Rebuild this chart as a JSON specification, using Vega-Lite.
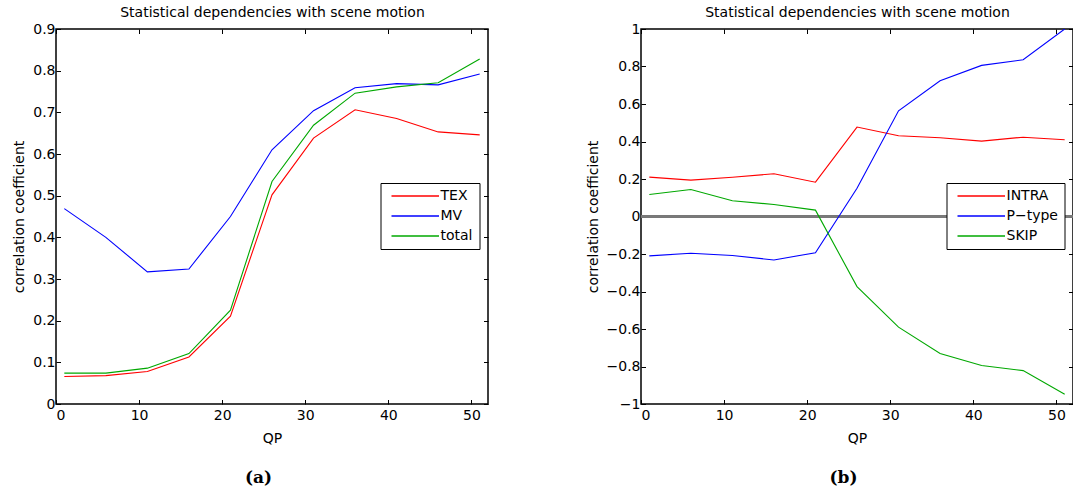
{
  "$schema": "https://vega.github.io/schema/vega-lite/v6.json",
  "padding": {"left": 11, "top": 4, "right": 0, "bottom": 0},
  "background": "white",
  "spacing": 95,
  "config": {
    "font": "DejaVu Sans",
    "view": {"stroke": "black", "strokeWidth": 1.5},
    "axis": {
      "domain": false,
      "grid": false,
      "ticks": true,
      "tickColor": "black",
      "tickWidth": 1,
      "tickSize": -4.5,
      "labelPadding": 8.5,
      "labelFont": "DejaVu Sans",
      "labelFontSize": 14,
      "labelColor": "black",
      "titleFont": "DejaVu Sans",
      "titleFontSize": 14,
      "titleFontWeight": "normal",
      "titleColor": "black"
    },
    "axisLeft": {"labelPadding": 5.5},
    "legend": {
      "orient": "none",
      "title": null,
      "symbolType": "M-0.4,0H9.1",
      "symbolSize": 100,
      "symbolStrokeWidth": 1.3,
      "labelFont": "DejaVu Sans",
      "labelFontSize": 14,
      "labelColor": "black",
      "labelOffset": 40,
      "strokeColor": "black",
      "fillColor": "white",
      "padding": 6,
      "rowPadding": 6
    },
    "title": {
      "orient": "bottom",
      "frame": "group",
      "anchor": "middle",
      "font": "DejaVu Serif",
      "fontWeight": "bold",
      "fontSize": 17,
      "color": "black",
      "dx": -13.5,
      "offset": 25
    }
  },
  "datasets": {
    "motionA": [
      {"QP": 1, "series": "TEX", "r": 0.066},
      {"QP": 6, "series": "TEX", "r": 0.068},
      {"QP": 11, "series": "TEX", "r": 0.078},
      {"QP": 16, "series": "TEX", "r": 0.113},
      {"QP": 21, "series": "TEX", "r": 0.211},
      {"QP": 26, "series": "TEX", "r": 0.502},
      {"QP": 31, "series": "TEX", "r": 0.638},
      {"QP": 36, "series": "TEX", "r": 0.706},
      {"QP": 41, "series": "TEX", "r": 0.685},
      {"QP": 46, "series": "TEX", "r": 0.653},
      {"QP": 51, "series": "TEX", "r": 0.646},
      {"QP": 1, "series": "MV", "r": 0.469},
      {"QP": 6, "series": "MV", "r": 0.4},
      {"QP": 11, "series": "MV", "r": 0.317},
      {"QP": 16, "series": "MV", "r": 0.324},
      {"QP": 21, "series": "MV", "r": 0.45},
      {"QP": 26, "series": "MV", "r": 0.61},
      {"QP": 31, "series": "MV", "r": 0.704},
      {"QP": 36, "series": "MV", "r": 0.759},
      {"QP": 41, "series": "MV", "r": 0.769},
      {"QP": 46, "series": "MV", "r": 0.766},
      {"QP": 51, "series": "MV", "r": 0.792},
      {"QP": 1, "series": "total", "r": 0.074},
      {"QP": 6, "series": "total", "r": 0.074},
      {"QP": 11, "series": "total", "r": 0.086},
      {"QP": 16, "series": "total", "r": 0.121},
      {"QP": 21, "series": "total", "r": 0.225},
      {"QP": 26, "series": "total", "r": 0.534},
      {"QP": 31, "series": "total", "r": 0.669},
      {"QP": 36, "series": "total", "r": 0.746},
      {"QP": 41, "series": "total", "r": 0.761},
      {"QP": 46, "series": "total", "r": 0.771},
      {"QP": 51, "series": "total", "r": 0.828}
    ],
    "motionB": [
      {"QP": 1, "series": "INTRA", "r": 0.21},
      {"QP": 6, "series": "INTRA", "r": 0.194},
      {"QP": 11, "series": "INTRA", "r": 0.209},
      {"QP": 16, "series": "INTRA", "r": 0.228},
      {"QP": 21, "series": "INTRA", "r": 0.183},
      {"QP": 26, "series": "INTRA", "r": 0.477},
      {"QP": 31, "series": "INTRA", "r": 0.431},
      {"QP": 36, "series": "INTRA", "r": 0.42},
      {"QP": 41, "series": "INTRA", "r": 0.402},
      {"QP": 46, "series": "INTRA", "r": 0.423},
      {"QP": 51, "series": "INTRA", "r": 0.409},
      {"QP": 1, "series": "P−type", "r": -0.21},
      {"QP": 6, "series": "P−type", "r": -0.196},
      {"QP": 11, "series": "P−type", "r": -0.208},
      {"QP": 16, "series": "P−type", "r": -0.232},
      {"QP": 21, "series": "P−type", "r": -0.193},
      {"QP": 26, "series": "P−type", "r": 0.151},
      {"QP": 31, "series": "P−type", "r": 0.564},
      {"QP": 36, "series": "P−type", "r": 0.724},
      {"QP": 41, "series": "P−type", "r": 0.806},
      {"QP": 46, "series": "P−type", "r": 0.836},
      {"QP": 51, "series": "P−type", "r": 1.0},
      {"QP": 1, "series": "SKIP", "r": 0.117},
      {"QP": 6, "series": "SKIP", "r": 0.144},
      {"QP": 11, "series": "SKIP", "r": 0.084},
      {"QP": 16, "series": "SKIP", "r": 0.064},
      {"QP": 21, "series": "SKIP", "r": 0.034},
      {"QP": 26, "series": "SKIP", "r": -0.374},
      {"QP": 31, "series": "SKIP", "r": -0.59},
      {"QP": 36, "series": "SKIP", "r": -0.731},
      {"QP": 41, "series": "SKIP", "r": -0.795},
      {"QP": 46, "series": "SKIP", "r": -0.822},
      {"QP": 51, "series": "SKIP", "r": -0.948}
    ]
  },
  "hconcat": [
    {
      "title": {"text": "(a)"},
      "width": 432,
      "height": 375,
      "data": {"name": "motionA"},
      "layer": [
        {
          "mark": {"type": "line", "strokeWidth": 1.1, "clip": true},
          "encoding": {
            "x": {
              "field": "QP", "type": "quantitative",
              "scale": {"domain": [0, 52], "nice": false, "zero": false},
              "axis": {"orient": "bottom", "title": "QP", "values": [0, 10, 20, 30, 40, 50], "format": "~r", "titlePadding": 9}
            },
            "y": {
              "field": "r", "type": "quantitative",
              "scale": {"domain": [0, 0.9], "nice": false},
              "axis": {"orient": "left", "title": "correlation coefficient", "values": [0, 0.1, 0.2, 0.3, 0.4, 0.5, 0.6, 0.7, 0.8, 0.9], "format": "~r", "titlePadding": 6}
            },
            "color": {
              "field": "series", "type": "nominal",
              "scale": {"domain": ["TEX", "MV", "total"], "range": ["#ff0000", "#0000ff", "#00a800"]},
              "legend": {"legendX": 324.5, "legendY": 154}
            }
          }
        },
        {
          "mark": {"type": "line", "strokeOpacity": 0},
          "encoding": {
            "x": {
              "field": "QP", "type": "quantitative",
              "axis": {"orient": "top", "labels": false, "title": "Statistical dependencies with scene motion", "values": [0, 10, 20, 30, 40, 50], "titlePadding": 9}
            },
            "y": {
              "field": "r", "type": "quantitative",
              "axis": {"orient": "right", "labels": false, "title": null, "values": [0, 0.1, 0.2, 0.3, 0.4, 0.5, 0.6, 0.7, 0.8, 0.9]}
            },
            "detail": {"field": "series"}
          }
        }
      ],
      "resolve": {"axis": {"x": "independent", "y": "independent"}}
    },
    {
      "title": {"text": "(b)"},
      "width": 432,
      "height": 375,
      "data": {"name": "motionB"},
      "layer": [
        {
          "mark": {"type": "rule", "color": "#7a7a7a", "strokeWidth": 1.3},
          "encoding": {"y": {"datum": 0, "type": "quantitative", "axis": null}}
        },
        {
          "mark": {"type": "line", "strokeWidth": 1.1, "clip": true},
          "encoding": {
            "x": {
              "field": "QP", "type": "quantitative",
              "scale": {"domain": [0, 52], "nice": false, "zero": false},
              "axis": {"orient": "bottom", "title": "QP", "values": [0, 10, 20, 30, 40, 50], "format": "~r", "titlePadding": 9}
            },
            "y": {
              "field": "r", "type": "quantitative",
              "scale": {"domain": [-1, 1], "nice": false},
              "axis": {"orient": "left", "title": "correlation coefficient", "values": [-1, -0.8, -0.6, -0.4, -0.2, 0, 0.2, 0.4, 0.6, 0.8, 1], "format": "~r", "titlePadding": 6}
            },
            "color": {
              "field": "series", "type": "nominal",
              "scale": {"domain": ["INTRA", "P−type", "SKIP"], "range": ["#ff0000", "#0000ff", "#00a800"]},
              "legend": {"legendX": 305.5, "legendY": 154}
            }
          }
        },
        {
          "mark": {"type": "line", "strokeOpacity": 0},
          "encoding": {
            "x": {
              "field": "QP", "type": "quantitative",
              "axis": {"orient": "top", "labels": false, "title": "Statistical dependencies with scene motion", "values": [0, 10, 20, 30, 40, 50], "titlePadding": 9}
            },
            "y": {
              "field": "r", "type": "quantitative",
              "axis": {"orient": "right", "labels": false, "title": null, "values": [-1, -0.8, -0.6, -0.4, -0.2, 0, 0.2, 0.4, 0.6, 0.8, 1]}
            },
            "detail": {"field": "series"}
          }
        }
      ],
      "resolve": {"axis": {"x": "independent", "y": "independent"}}
    }
  ],
  "resolve": {"scale": {"color": "independent"}, "legend": {"color": "independent"}}
}
